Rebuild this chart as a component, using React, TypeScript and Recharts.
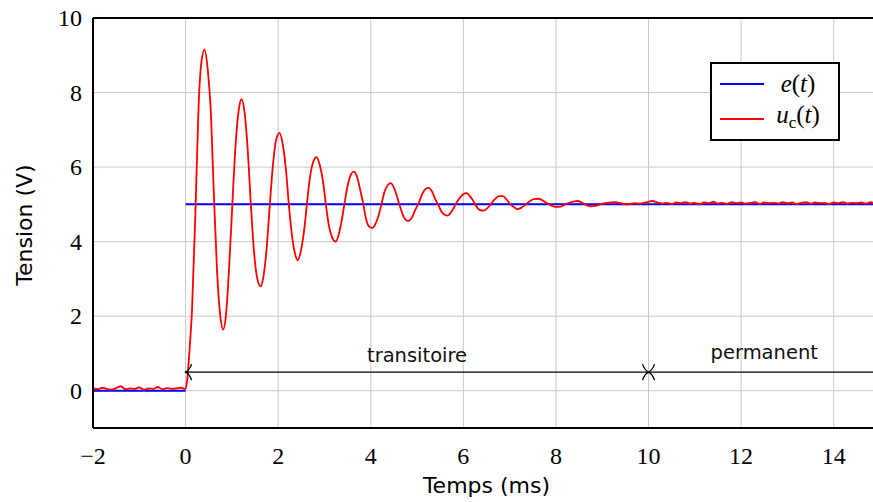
import React from 'react';
import { LineChart, Line, XAxis, YAxis, CartesianGrid, ReferenceLine, ReferenceDot, Legend } from 'recharts';

// axes
const timeTicks = [-2, 0, 2, 4, 6, 8, 10, 12, 14];
const voltTicks = [0, 2, 4, 6, 8, 10];

// e(t) : échelon 0 -> 5 V à t = 0
const eTime = [-2, 0, 0, 0, 15];
const eVolt = [0, 0, null, 5, 5];

// u_c(t) avant l'échelon
const preTime = [-2, -1.9, -1.8, -1.7, -1.6, -1.5, -1.4, -1.3, -1.2, -1.1, -1, -0.9, -0.8, -0.7, -0.6, -0.5, -0.4, -0.3, -0.2, -0.1];
const preVolt = [0.06, 0.04, 0.08, 0.05, 0.03, 0.07, 0.12, 0.04, 0.06, 0.05, 0.09, 0.03, 0.06, 0.05, 0.1, 0.04, 0.07, 0.05, 0.06, 0.08];

// u_c(t) régime transitoire
const transTime = [
  0, 0.04, 0.08, 0.14, 0.22, 0.28, 0.34, 0.41, 0.48, 0.54, 0.61, 0.68, 0.75, 0.81, 0.87, 0.94, 1.01, 1.08, 1.15, 1.21,
  1.27, 1.34, 1.41, 1.48, 1.55, 1.62, 1.68, 1.75, 1.82, 1.89, 1.96, 2.03, 2.1, 2.17, 2.23, 2.3, 2.36, 2.42, 2.49, 2.56,
  2.62, 2.69, 2.76, 2.83, 2.9, 2.97, 3.03, 3.1, 3.17, 3.24, 3.31, 3.37, 3.43, 3.5, 3.57, 3.63, 3.7, 3.77, 3.84, 3.9,
  3.97, 4.04, 4.11, 4.18, 4.24, 4.3, 4.37, 4.43, 4.5, 4.57, 4.63, 4.7, 4.76, 4.82, 4.89, 4.96, 5.04, 5.12, 5.19, 5.25,
  5.32, 5.39, 5.46, 5.53, 5.6, 5.66, 5.73, 5.8, 5.87, 5.94, 6.0, 6.07, 6.14, 6.21, 6.27, 6.34, 6.44, 6.52, 6.6, 6.68,
  6.77, 6.85, 6.94, 7.02, 7.1, 7.17, 7.24, 7.33, 7.42, 7.52, 7.62, 7.72, 7.82, 7.92, 8.01, 8.1, 8.2, 8.3, 8.4, 8.47,
  8.56, 8.66, 8.76, 8.86, 8.96, 9.06, 9.18, 9.29, 9.4, 9.5, 9.6, 9.7, 9.8, 9.9, 10.0, 10.08,
];
const transVolt = [
  0.05, 0.35, 1.0, 2.2, 5.1, 7.6, 8.8, 9.15, 8.6, 7.6, 5.3, 3.2, 2.0, 1.64, 2.0, 3.3, 5.0, 6.6, 7.55, 7.82,
  7.5, 6.5, 5.0, 3.7, 3.0, 2.8, 3.05, 3.8, 5.0, 6.1, 6.75, 6.92, 6.6, 5.9, 5.0, 4.15, 3.7, 3.5, 3.75, 4.3,
  5.0, 5.75, 6.15, 6.27, 6.05, 5.6, 5.0, 4.4, 4.1, 4.0, 4.2, 4.55, 5.0, 5.5, 5.8, 5.88, 5.75, 5.4, 5.0, 4.6,
  4.4, 4.37, 4.5, 4.75, 5.05, 5.35, 5.52, 5.57, 5.45, 5.2, 4.95, 4.7, 4.58, 4.56, 4.65, 4.85, 5.05, 5.3, 5.42, 5.44,
  5.35, 5.15, 4.98, 4.8, 4.72, 4.7, 4.78, 4.92, 5.08, 5.2, 5.27, 5.3, 5.22, 5.1, 4.97, 4.86, 4.83, 4.9, 5.02, 5.14,
  5.22, 5.22, 5.12, 5.0, 4.92, 4.87, 4.9, 4.98, 5.07, 5.14, 5.15, 5.1, 5.02, 4.96, 4.93, 4.94, 5.0, 5.05, 5.08, 5.09,
  5.05, 4.98, 4.95, 4.96, 5.0, 5.03, 5.05, 5.06, 5.03, 5.0, 5.01, 5.03, 5.02, 5.04, 5.07, 5.09,
];

// u_c(t) régime permanent
const permTime = [
  10.2, 10.3, 10.4, 10.5, 10.6, 10.7, 10.8, 10.9, 11, 11.1, 11.2, 11.3, 11.4, 11.5, 11.6, 11.7, 11.8, 11.9, 12, 12.1,
  12.2, 12.3, 12.4, 12.5, 12.6, 12.7, 12.8, 12.9, 13, 13.1, 13.2, 13.3, 13.4, 13.5, 13.6, 13.7, 13.8, 13.9, 14, 14.1,
  14.2, 14.3, 14.4, 14.5, 14.6, 14.7, 14.8, 14.9, 15,
];
const permVolt = [
  5.05, 5.02, 5.04, 5.01, 5.05, 5.03, 5.06, 5.02, 5.04, 5.0, 5.05, 5.03, 5.07, 5.02, 5.04, 5.01, 5.06, 5.03, 5.05, 5.02,
  5.04, 5.06, 5.01, 5.05, 5.03, 5.04, 5.02, 5.06, 5.03, 5.05, 5.01, 5.04, 5.06, 5.02, 5.05, 5.03, 5.04, 5.01, 5.05, 5.03,
  5.06, 5.02, 5.04, 5.03, 5.05, 5.02, 5.06, 5.03, 5.04,
];

// annotation
const arrowLevel = 0.5;
const transStart = 0;
const permStart = 10;
const permEnd = 15;

const eData = eTime.map((t, i) => ({ t, v: eVolt[i] }));
const ucData = [
  ...preTime.map((t, i) => ({ t, v: preVolt[i] })),
  ...transTime.map((t, i) => ({ t, v: transVolt[i] })),
  ...permTime.map((t, i) => ({ t, v: permVolt[i] })),
];

const sansFont = 'DejaVu Sans';

const fmtTick = (v: number) => (v < 0 ? '\u2212' + Math.abs(v) : String(v));

const renderXTick = ({ x, y, payload }: any) => (
  <text key={`xt-${payload.value}`} x={x} y={y + 17} textAnchor="middle" style={{ fontFamily: 'Liberation Serif', fontSize: '24px' }} fill="#000">
    {fmtTick(payload.value)}
  </text>
);

const renderYTick = ({ x, y, payload }: any) => (
  <text key={`yt-${payload.value}`} x={x} y={y + 8} textAnchor="end" style={{ fontFamily: 'Liberation Serif', fontSize: '24px' }} fill="#000">
    {fmtTick(payload.value)}
  </text>
);

// pointe de flèche ouverte, dir = 1 : branches vers la droite
const ArrowTip = ({ cx, cy, dir }: any) => {
  if (cx == null || cy == null) return null;
  const d = `M ${cx + dir * 6} ${cy - 8} Q ${cx + dir * 4} ${cy - 2} ${cx} ${cy} Q ${cx + dir * 4} ${cy + 2} ${cx + dir * 6} ${cy + 8}`;
  return <path d={d} fill="none" stroke="#000" strokeWidth={1.3} />;
};

const YTitle = ({ viewBox }: any) => {
  const cy = viewBox.y + viewBox.height / 2 + 2;
  return (
    <text x={32} y={cy} transform={`rotate(-90, 32, ${cy})`} textAnchor="middle" fontFamily={sansFont} fontSize={22} fill="#000">
      Tension (V)
    </text>
  );
};

const LegendBox = () => (
  <div
    style={{
      boxSizing: 'border-box',
      width: 130,
      height: 79,
      border: '2px solid #000',
      background: '#fff',
      paddingTop: 2,
      fontFamily: 'Liberation Serif',
      fontSize: 25,
      color: '#000',
    }}
  >
    {[
      { color: '#0000ff', label: <><i>e</i>(<i>t</i>)</> },
      { color: '#ff0000', label: <><i>u</i><span style={{ fontSize: 17, verticalAlign: -5 }}>c</span>(<i>t</i>)</> },
    ].map((row, i) => (
      <div key={i} style={{ height: 35, display: 'flex', alignItems: 'center' }}>
        <div style={{ width: 44, height: 2, background: row.color, marginLeft: 8 }} />
        <div style={{ width: 68, textAlign: 'center', lineHeight: '35px' }}>{row.label}</div>
      </div>
    ))}
  </div>
);

export default function App() {
  return (
    <div style={{ position: 'fixed', left: 0, top: 0, width: 873, height: 502, overflow: 'hidden', background: '#fff' }}>
      <LineChart width={890} height={502} margin={{ top: 18, right: 10, bottom: 0, left: 0 }}>
        <CartesianGrid stroke="#c8c8c8" strokeWidth={1} />
        <XAxis
          dataKey="t"
          type="number"
          domain={[-2, 15]}
          ticks={timeTicks}
          allowDataOverflow
          height={74}
          axisLine={{ stroke: '#000', strokeWidth: 2 }}
          tickLine={false}
          tickMargin={13}
          tick={renderXTick}
          label={{ value: 'Temps (ms)', position: 'insideBottom', offset: 9, fontFamily: sansFont, fontSize: 22, fill: '#000' }}
        />
        <YAxis
          type="number"
          domain={[-1, 10]}
          ticks={voltTicks}
          allowDataOverflow
          width={93}
          stroke="#000"
          fontFamily="Liberation Serif"
          fontSize={23}
          axisLine={{ stroke: '#000', strokeWidth: 2 }}
          tickLine={false}
          tickMargin={5}
          tick={renderYTick}
          label={<YTitle />}
        />
        <ReferenceLine y={10} stroke="#000" strokeWidth={2} />
        <ReferenceLine x={15} stroke="#000" strokeWidth={2} />
        <Line data={eData} dataKey="v" type="linear" stroke="#0000ff" strokeWidth={2} dot={false} activeDot={false} isAnimationActive={false} connectNulls={false} />
        <Line data={ucData} dataKey="v" type="monotone" stroke="#ff0000" strokeWidth={1.8} dot={false} activeDot={false} isAnimationActive={false} />
        <ReferenceLine
          segment={[{ x: transStart, y: arrowLevel }, { x: permStart, y: arrowLevel }]}
          stroke="#000"
          strokeWidth={1.3}
          label={{ value: 'transitoire', position: 'top', offset: 10, fontFamily: sansFont, fontSize: 19.5, fill: '#111' }}
        />
        <ReferenceLine
          segment={[{ x: permStart, y: arrowLevel }, { x: permEnd, y: arrowLevel }]}
          stroke="#000"
          strokeWidth={1.3}
          label={{ value: 'permanent', position: 'top', offset: 13, fontFamily: sansFont, fontSize: 19.5, fill: '#111' }}
        />
        <ReferenceDot x={transStart} y={arrowLevel} shape={(p: any) => <ArrowTip {...p} dir={1} />} />
        <ReferenceDot x={permStart} y={arrowLevel} shape={(p: any) => <ArrowTip {...p} dir={-1} />} />
        <ReferenceDot x={permStart} y={arrowLevel} shape={(p: any) => <ArrowTip {...p} dir={1} />} />
        <Legend
          layout="horizontal"
          verticalAlign="middle"
          align="center"
          content={() => <LegendBox />}
          wrapperStyle={{ left: 710, top: 62, width: 'auto', height: 'auto' }}
        />
      </LineChart>
    </div>
  );
}
